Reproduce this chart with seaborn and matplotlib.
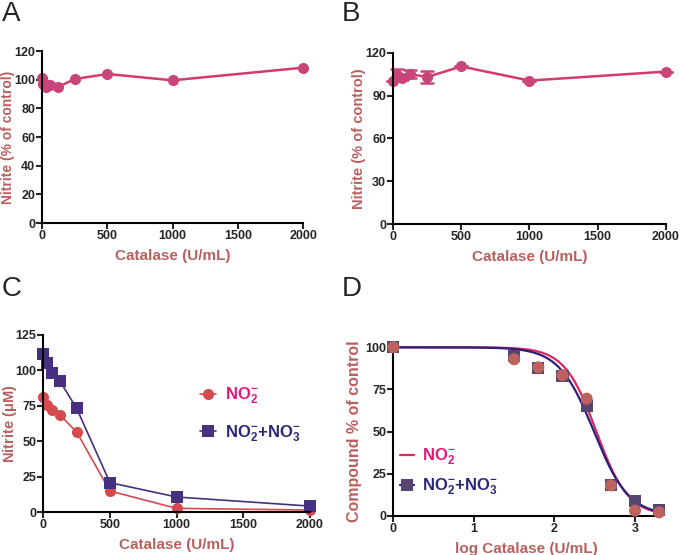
import numpy as np
import pandas as pd

import matplotlib
matplotlib.use("Agg")
import matplotlib.pyplot as plt
from matplotlib.lines import Line2D
import seaborn as sns

# panel A: nitrite vs catalase (% of control)
a_catalase = [0, 7.8, 15.6, 31.25, 62.5, 125, 250, 500, 1000, 2000]
a_nitrite = [101, 97, 98, 95, 96, 95, 100.5, 104, 99.6, 108.4]

# panel B: with error bars
b_catalase = [0, 31.25, 62.5, 125, 250, 500, 1000, 2000]
b_nitrite = [100, 104.5, 102.5, 105, 103, 110.4, 100.5, 106.8]
b_sem = [0, 4, 1.5, 3, 4, 0, 0, 0]

# panel C: nitrite (uM)
c_catalase = [0, 31.25, 62.5, 125, 250, 500, 1000, 2000]
c_no2 = [81, 76, 72, 68.6, 56.6, 15, 2.8, 1.6]
c_no2_no3 = [111.6, 105.5, 98.4, 92.4, 73.3, 20.9, 10.8, 4.4]

# panel D: % of control vs log catalase
d_logcat = [0, 1.5, 1.8, 2.1, 2.4, 2.7, 3.0, 3.3]
d_no2 = [100, 92.9, 88.1, 83.5, 69.5, 18, 3, 2]
d_no2_no3 = [100, 94.6, 88, 82.8, 65.3, 18, 8.9, 3.4]
# fitted sigmoid parameters (top, bottom, logIC50, hill)
fit_no2 = (100, 0, 2.52, 2.2)
fit_no2_no3 = (100, 0, 2.49, 2.0)

label_col = "#b9605f"
pink = "#d63a6c"
red = "#d44a4f"
purple = "#46307f"
leg_pink = "#e2197a"
leg_navy = "#2b2878"

sns.set_style("ticks")
plt.rcParams["font.family"] = ["Liberation Sans", "DejaVu Sans"]
plt.rcParams["mathtext.fontset"] = "custom"
plt.rcParams["mathtext.rm"] = "Liberation Sans"
plt.rcParams["mathtext.bf"] = "Liberation Sans:bold"
plt.rcParams["axes.linewidth"] = 1.5

fig = plt.figure(figsize=(6.8, 5.55), dpi=100)
axA = fig.add_axes([0.0618, 0.598, 0.384, 0.310])
axB = fig.add_axes([0.578, 0.596, 0.401, 0.309])
axC = fig.add_axes([0.0637, 0.0769, 0.392, 0.3195])
axD = fig.add_axes([0.5784, 0.0708, 0.391, 0.3034])


def style_axis(ax, xlabel, ylabel, ylabel_x, ysize=10.5):
    sns.despine(ax=ax)
    ax.tick_params(width=1.5, length=4, labelsize=9, pad=1)
    for t in ax.get_xticklabels() + ax.get_yticklabels():
        t.set_fontweight("bold")
    ax.set_xlabel(xlabel, color=label_col, fontsize=11, fontweight="bold", labelpad=5)
    ax.set_ylabel(ylabel, color=label_col, fontsize=ysize, fontweight="bold", va="center")
    ax.yaxis.set_label_coords(ylabel_x, 0.5)
    for sp in ax.spines.values():
        sp.set_color("black")


# A
dfA = pd.DataFrame({"cat": a_catalase, "nit": a_nitrite})
sns.lineplot(data=dfA, x="cat", y="nit", ax=axA, color=pink, lw=1.8, marker="o",
             markersize=8, markeredgewidth=0, markerfacecolor="#c8457a", clip_on=False)
axA.set_xlim(0, 2000)
axA.set_ylim(0, 120)
axA.set_xticks([0, 500, 1000, 1500, 2000])
axA.set_yticks(range(0, 121, 20))
style_axis(axA, "Catalase (U/mL)", "Nitrite (% of control)", -0.132, ysize=10)

# B
dfB = pd.DataFrame({"cat": b_catalase, "nit": b_nitrite, "sem": b_sem})
sns.lineplot(data=dfB, x="cat", y="nit", ax=axB, color=pink, lw=1.8, marker="o",
             markersize=8, markeredgewidth=0, markerfacecolor="#c8457a", clip_on=False)
axB.errorbar(dfB["cat"], dfB["nit"], yerr=dfB["sem"], fmt="none", ecolor="#c8457a",
             elinewidth=1.8, capsize=5, capthick=1.8, clip_on=False)
axB.set_xlim(0, 2000)
axB.set_ylim(0, 120)
axB.set_xticks([0, 500, 1000, 1500, 2000])
axB.set_yticks(range(0, 121, 30))
style_axis(axB, "Catalase (U/mL)", "Nitrite (% of control)", -0.125)

# C
dfC = pd.DataFrame({
    "cat": c_catalase * 2,
    "val": c_no2 + c_no2_no3,
    "species": ["NO2"] * len(c_no2) + ["NO2+NO3"] * len(c_no2_no3),
})
sns.lineplot(data=dfC, x="cat", y="val", hue="species", style="species", ax=axC,
             palette={"NO2": red, "NO2+NO3": purple},
             markers={"NO2": "o", "NO2+NO3": "s"}, dashes=False, lw=1.2,
             markersize=8, markeredgewidth=0, clip_on=False, legend=False)
axC.set_xlim(0, 2000)
axC.set_ylim(0, 125)
axC.set_xticks([0, 500, 1000, 1500, 2000])
axC.set_yticks(range(0, 126, 25))
style_axis(axC, "Catalase (U/mL)", r"Nitrite ($\mathbf{\mu}$M)", -0.125)
handlesC = [
    Line2D([], [], color=red, lw=1.2, marker="o", markersize=8, markeredgewidth=0),
    Line2D([], [], color=purple, lw=1.2, marker="s", markersize=8, markeredgewidth=0),
]
axC.legend(handlesC, [r"$\mathbf{NO_2^{-}}$", r"$\mathbf{NO_2^{-}{+}NO_3^{-}}$"],
           loc="center left", bbox_to_anchor=(0.53, 0.55), frameon=False,
           handlelength=1.0, handletextpad=0.5, labelspacing=1.0,
           prop={"size": 12, "weight": "bold"}, labelcolor=[leg_pink, leg_navy])

# D
xs = np.linspace(0, 3.3, 300)
for params, col in [(fit_no2, "#e1245d"), (fit_no2_no3, "#2c1f7c")]:
    top, bottom, logic50, hill = params
    curve = bottom + (top - bottom) / (1 + 10 ** (hill * (xs - logic50)))
    sns.lineplot(x=xs, y=curve, ax=axD, color=col, lw=1.6, clip_on=False)
dfD = pd.DataFrame({
    "logcat": d_logcat * 2,
    "val": d_no2_no3 + d_no2,
    "species": ["NO2+NO3"] * len(d_no2_no3) + ["NO2"] * len(d_no2),
})
sns.scatterplot(data=dfD, x="logcat", y="val", hue="species", style="species", ax=axD,
                palette={"NO2": "#bd625e", "NO2+NO3": "#56466f"},
                markers={"NO2": "o", "NO2+NO3": "s"}, s=75, linewidth=0,
                clip_on=False, legend=False, zorder=3)
axD.set_xlim(0, 3.3)
axD.set_ylim(0, 100)
axD.set_xticks([0, 1, 2, 3])
axD.set_yticks(range(0, 101, 25))
style_axis(axD, "log Catalase (U/mL)", "Compound % of control", -0.145, ysize=11.5)
handlesD = [
    Line2D([], [], color="#e1245d", lw=1.6),
    Line2D([], [], color="#2c1f7c", lw=1.6, marker="s", markersize=8,
           markeredgewidth=0, markerfacecolor="#56466f"),
]
axD.legend(handlesD, [r"$\mathbf{NO_2^{-}}$", r"$\mathbf{NO_2^{-}{+}NO_3^{-}}$"],
           loc="lower left", bbox_to_anchor=(-0.03, 0.02), frameon=False,
           handlelength=0.8, handletextpad=0.5, labelspacing=0.6,
           prop={"size": 12, "weight": "bold"}, labelcolor=[leg_pink, leg_navy])

for letter, (x, y) in zip("ABCD", [(0.003, 0.998), (0.503, 0.998), (0.003, 0.503), (0.503, 0.503)]):
    fig.text(x, y, letter, fontsize=20, va="top", ha="left")

fig.savefig("out.png", dpi=100)
